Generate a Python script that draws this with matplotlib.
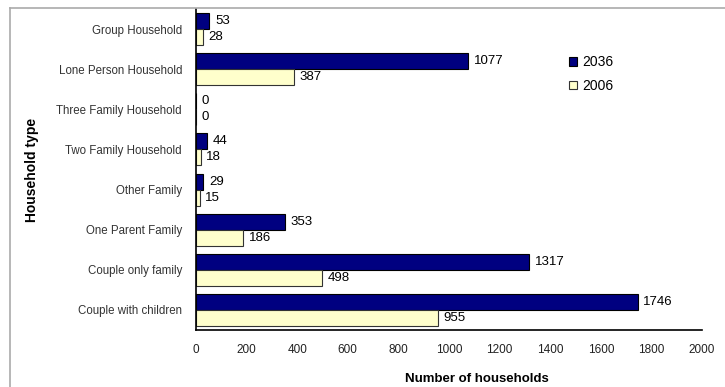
import matplotlib
matplotlib.use("Agg")
import matplotlib.pyplot as plt
import numpy as np

plt.rcParams['font.family'] = ['Liberation Sans', 'DejaVu Sans']

categories = ["Group Household", "Lone Person Household", "Three Family Household",
              "Two Family Household", "Other Family", "One Parent Family",
              "Couple only family", "Couple with children"]
vals_2036 = [53, 1077, 0, 44, 29, 353, 1317, 1746]
vals_2006 = [28, 387, 0, 18, 15, 186, 498, 955]
xticks = [0, 200, 400, 600, 800, 1000, 1200, 1400, 1600, 1800, 2000]

fig = plt.figure(figsize=(7.25, 3.87), dpi=100)
ax = fig.add_axes([196/725, 1 - 330/387, 506/725, 321/387])

y = np.arange(len(categories))
h = 0.4
ax.barh(y - h/2, vals_2036, height=h, color="#000080", edgecolor="black", linewidth=0.8, label="2036")
ax.barh(y + h/2, vals_2006, height=h, color="#FFFFCC", edgecolor="#333333", linewidth=0.8, label="2006")

for yi, v in zip(y, vals_2036):
    ax.text(v + 22, yi - h/2, str(v), va="center", ha="left", fontsize=9.5)
for yi, v in zip(y, vals_2006):
    ax.text(v + 22, yi + h/2, str(v), va="center", ha="left", fontsize=9.5)

ax.set_ylim(len(categories) - 0.5, -0.5)
ax.set_xlim(0, 2000)
ax.set_xticks(xticks)
ax.set_xticklabels([str(t) for t in xticks], fontsize=8.5, color="#222222")
ax.set_yticks(y)
ax.set_yticklabels(categories, fontsize=8.3, color="#333333")
ax.tick_params(axis="both", length=0, pad=10)
for s in ["top", "right"]:
    ax.spines[s].set_visible(False)
ax.spines["left"].set_linewidth(1.2)
ax.spines["bottom"].set_linewidth(1.2)

ax.set_xlabel("Number of households", fontsize=9.5, fontweight="bold")
ax.xaxis.set_label_coords(0.555, -0.135)
ax.set_ylabel("Household type", fontsize=10, fontweight="bold")
ax.yaxis.set_label_coords(-0.31, 0.5)

ax.legend(loc="upper left", bbox_to_anchor=(0.712, 0.895), frameon=False, fontsize=10,
          handlelength=0.6, handleheight=0.6, handletextpad=0.4, labelspacing=0.7)

# light frame around the chart area
fig.add_artist(plt.Line2D([10/725, 1], [1 - 8/387, 1 - 8/387], color="#aaaaaa", linewidth=1.2))
fig.add_artist(plt.Line2D([10/725, 10/725], [0, 1 - 8/387], color="#aaaaaa", linewidth=1.2))

fig.savefig("out.png", dpi=100)
